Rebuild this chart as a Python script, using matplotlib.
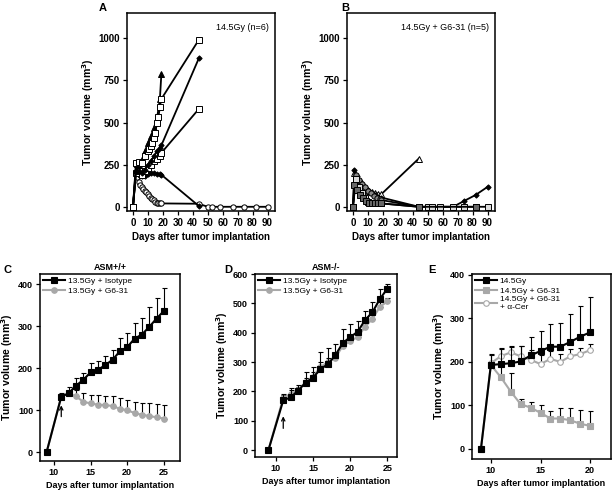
import matplotlib

matplotlib.use('Agg')
import matplotlib.pyplot as plt

plt.rcParams['font.family'] = ['Liberation Sans', 'DejaVu Sans']

W, H = 615, 494

# ---- panel A: 14.5Gy, individual mice ----
A_days_sq1 = [0, 2, 4, 6, 8, 10, 11, 12, 13, 14, 15, 16, 17, 18, 19, 44]
A_vol_sq1 = [0, 260, 265, 260, 300, 330, 340, 360, 380, 410, 440, 500, 530, 595, 640, 990]
A_days_tri = [0, 2, 4, 6, 8, 10, 12, 14, 16, 18, 19]
A_vol_tri = [0, 220, 250, 280, 330, 380, 420, 470, 520, 640, 790]
A_days_dia1 = [0, 2, 4, 6, 8, 10, 12, 14, 16, 18, 19, 44]
A_vol_dia1 = [0, 210, 215, 200, 220, 250, 270, 300, 330, 350, 365, 880]
A_days_sq2 = [0, 2, 4, 6, 8, 10, 12, 14, 16, 18, 19, 44]
A_vol_sq2 = [0, 200, 210, 190, 210, 230, 250, 270, 285, 300, 320, 580]
A_days_dia2 = [0, 2, 4, 6, 8, 10, 12, 14, 16, 18, 19, 44]
A_vol_dia2 = [0, 240, 190, 180, 185, 195, 200, 200, 195, 195, 190, 5]
A_days_circ = [0, 2, 3, 4, 5, 6, 7, 8, 9, 10, 11, 12, 13, 14, 15, 16, 17, 18, 19,
               44, 50, 53, 58, 67, 74, 82, 90]
A_vol_circ = [0, 200, 175, 150, 130, 118, 105, 95, 85, 75, 65, 55, 45, 38, 30, 25, 22, 20, 20,
              18, 0, 0, 0, 0, 0, 0, 0]

# ---- panel B: 14.5Gy + G6-31, individual mice ----
B_days_tri = [0, 1, 3, 5, 7, 9, 11, 13, 15, 17, 19, 44]
B_vol_tri = [0, 200, 170, 140, 120, 105, 95, 88, 82, 78, 75, 286]
B_days_dia = [0, 1, 3, 5, 7, 9, 11, 13, 15, 17, 19, 44, 67, 74, 82, 90]
B_vol_dia = [0, 219, 185, 155, 130, 110, 95, 80, 70, 60, 55, 0, 0, 33, 70, 118]
B_days_circ = [0, 2, 4, 6, 8, 10, 12, 14, 16, 18, 19, 44]
B_vol_circ = [0, 190, 160, 135, 115, 95, 80, 65, 55, 45, 40, 0]
B_days_dsq = [0, 1, 3, 5, 7, 9, 11, 13, 15, 17, 19, 44, 82]
B_vol_dsq = [0, 130, 100, 70, 50, 35, 25, 20, 20, 20, 20, 0, 0]
B_days_gsq = [0, 2, 4, 6, 8, 10, 12, 14, 16, 18, 19]
B_vol_gsq = [0, 165, 120, 80, 50, 30, 20, 20, 20, 20, 20]
B_days_late = [44, 50, 53, 58, 67, 74, 82, 90]
B_vol_late = [0, 0, 0, 0, 0, 0, 0, 0]

# ---- panel C: ASM+/+ ----
C_days = [9, 11, 12, 13, 14, 15, 16, 17, 18, 19, 20, 21, 22, 23, 24, 25]
C_iso = [0, 132, 140, 158, 172, 190, 196, 207, 220, 240, 250, 270, 280, 298, 318, 336]
C_iso_err = [0, 10, 15, 18, 17, 22, 22, 23, 24, 32, 34, 37, 40, 47, 50, 55]
C_g6 = [0, 132, 140, 133, 120, 116, 113, 112, 110, 103, 100, 93, 89, 86, 83, 80]
C_g6_err = [0, 0, 0, 14, 20, 21, 22, 22, 23, 25, 25, 27, 29, 31, 32, 32]

# ---- panel D: ASM-/- ----
D_days = [9, 11, 12, 13, 14, 15, 16, 17, 18, 19, 20, 21, 22, 23, 24, 25]
D_iso = [0, 170, 180, 203, 230, 247, 276, 293, 323, 365, 385, 403, 443, 470, 515, 550]
D_iso_err = [0, 22, 33, 19, 35, 38, 59, 55, 40, 48, 45, 37, 30, 35, 33, 15]
D_g6 = [0, 178, 192, 205, 232, 250, 283, 300, 315, 355, 372, 385, 420, 448, 488, 507]
D_g6_err = [0, 10, 12, 12, 14, 15, 18, 15, 15, 18, 18, 15, 15, 15, 15, 12]

# ---- panel E ----
E_days = [9, 10, 11, 12, 13, 14, 15, 16, 17, 18, 19, 20]
E_gy = [0, 193, 195, 197, 201, 215, 225, 235, 235, 246, 258, 268]
E_gy_err = [0, 25, 35, 38, 36, 43, 45, 52, 55, 64, 70, 82]
E_g6 = [0, 193, 165, 132, 103, 95, 83, 70, 70, 66, 58, 53]
E_g6_err = [0, 0, 25, 43, 12, 12, 17, 18, 25, 29, 32, 35]
E_cer = [0, 197, 213, 222, 213, 205, 195, 207, 200, 213, 218, 227]
E_cer_err = [0, 20, 20, 14, 24, 22, 20, 18, 18, 16, 14, 14]

GRAY = '#a8a8a8'
FS = 6.5


def add_axes(fig, left, top, right, bottom):
    return fig.add_axes([left / W, 1 - bottom / H, (right - left) / W, (bottom - top) / H])


def style(ax, xfs=6.5, tfs=6.5):
    for s in ax.spines.values():
        s.set_linewidth(1.1)
    ax.tick_params(direction='out', length=3, width=0.9, labelsize=tfs, pad=2)
    for lbl in ax.get_xticklabels() + ax.get_yticklabels():
        lbl.set_fontweight('bold')
    ax.set_xlabel('Days after tumor implantation', fontsize=xfs, fontweight='bold', labelpad=3)
    ax.set_ylabel('Tumor volume (mm$^\\mathbf{3}$)', fontsize=7.6, fontweight='bold', labelpad=2)


def mouse(ax, x, y, marker, mfc='black', mec='black', ms=3.8, z=2):
    ax.plot(x, y, color='black', lw=1.3, marker=marker, ms=ms, mfc=mfc, mec=mec,
            mew=0.7, zorder=z)


fig = plt.figure(figsize=(W / 100, H / 100), dpi=100)

# panel A
axA = add_axes(fig, 127, 13, 275, 211)
mouse(axA, A_days_circ, A_vol_circ, 'o', mfc='white')
mouse(axA, A_days_dia2, A_vol_dia2, 'D', ms=2.7)
mouse(axA, A_days_sq2, A_vol_sq2, 's', mfc='white', ms=4.2)
mouse(axA, A_days_dia1, A_vol_dia1, 'D', ms=2.7)
mouse(axA, A_days_tri, A_vol_tri, '^')
mouse(axA, A_days_sq1, A_vol_sq1, 's', mfc='white', ms=4.5)
axA.text(0.96, 0.95, '14.5Gy (n=6)', transform=axA.transAxes, ha='right', va='top', fontsize=FS)

# panel B
axB = add_axes(fig, 347, 13, 495, 211)
mouse(axB, B_days_tri, B_vol_tri, '^', mfc='white')
mouse(axB, B_days_dia, B_vol_dia, 'D', ms=2.7)
mouse(axB, B_days_circ, B_vol_circ, 'o', mfc='#888888')
mouse(axB, B_days_dsq, B_vol_dsq, 's', mfc='#666666', ms=4.2, z=4)
mouse(axB, B_days_gsq + B_days_late, B_vol_gsq + B_vol_late, 's', mfc='#dcdcdc', ms=4.5, z=3)
axB.text(0.96, 0.95, '14.5Gy + G6-31 (n=5)', transform=axB.transAxes, ha='right', va='top', fontsize=FS)

for ax in (axA, axB):
    ax.set_xlim(-4, 95)
    ax.set_ylim(-25, 1150)
    ax.set_xticks(range(0, 91, 10))
    ax.set_yticks([0, 250, 500, 750, 1000])
    style(ax, xfs=7, tfs=7)


def group(ax, x, y, err, color, marker, mfc, label, z):
    low = [0] * len(err)
    ax.errorbar(x, y, yerr=[low, err], fmt='none', ecolor='black', elinewidth=0.8,
                capsize=1.8, capthick=0.8, zorder=z - 1)
    ax.plot(x, y, color=color, lw=1.5, marker=marker, ms=4, mfc=mfc, mec=color,
            mew=0.8, label=label, zorder=z)


# panel C
axC = add_axes(fig, 40, 274, 180, 461)
group(axC, C_days, C_g6, C_g6_err, GRAY, 'o', GRAY, '13.5Gy + G6-31', 3)
group(axC, C_days, C_iso, C_iso_err, 'black', 's', 'black', '13.5Gy + Isotype', 5)
axC.set_xlim(8.1, 27.2)
axC.set_ylim(-21, 424)
axC.set_yticks([0, 100, 200, 300, 400])
axC.annotate('', xy=(11, 118), xytext=(11, 78),
             arrowprops=dict(arrowstyle='->', lw=0.9, color='black', mutation_scale=6))
axC.set_title('ASM+/+', fontsize=FS, fontweight='bold', pad=3)

# panel D
axD = add_axes(fig, 255, 274, 397, 457)
group(axD, D_days, D_g6, D_g6_err, GRAY, 'o', GRAY, '13.5Gy + G6-31', 3)
group(axD, D_days, D_iso, D_iso_err, 'black', 's', 'black', '13.5Gy + Isotype', 5)
axD.set_xlim(7.2, 26.3)
axD.set_ylim(-23, 600)
axD.set_yticks([0, 100, 200, 300, 400, 500, 600])
axD.annotate('', xy=(11, 125), xytext=(11, 65),
             arrowprops=dict(arrowstyle='->', lw=0.9, color='black', mutation_scale=6))
axD.set_title('ASM-/-', fontsize=FS, fontweight='bold', pad=3)

for ax in (axC, axD):
    ax.set_xticks([10, 15, 20, 25])
    h, l = ax.get_legend_handles_labels()
    ax.legend(h[::-1], l[::-1], loc='upper left', frameon=False, fontsize=6,
              handlelength=2.6, handletextpad=0.3, labelspacing=0.2,
              borderaxespad=0.2, borderpad=0.2)
    style(ax)

# panel E
axE = add_axes(fig, 472, 274, 611, 459)
group(axE, E_days[1:], E_cer[1:], E_cer_err[1:], GRAY, 'o', 'white', '14.5Gy + G6-31\n+ \u03b1-Cer', 3)
group(axE, E_days, E_g6, E_g6_err, GRAY, 's', GRAY, '14.5Gy + G6-31', 4)
group(axE, E_days, E_gy, E_gy_err, 'black', 's', 'black', '14.5Gy', 5)
axE.set_xlim(8.1, 22.1)
axE.set_ylim(-23, 402)
axE.set_xticks([10, 15, 20])
axE.set_yticks([0, 100, 200, 300, 400])
h, l = axE.get_legend_handles_labels()
axE.legend(h[::-1], l[::-1], loc='upper left', frameon=False, fontsize=6,
           handlelength=2.6, handletextpad=0.3, labelspacing=0.2,
           borderaxespad=0.2, borderpad=0.2)
style(axE)

# panel letters
for letter, x, y in [('A', 103, 8), ('B', 345, 8), ('C', 8, 270), ('D', 228, 270), ('E', 432, 270)]:
    fig.text(x / W, 1 - y / H, letter, fontsize=8, fontweight='bold', ha='center', va='center')

fig.savefig('out.png', dpi=100)
